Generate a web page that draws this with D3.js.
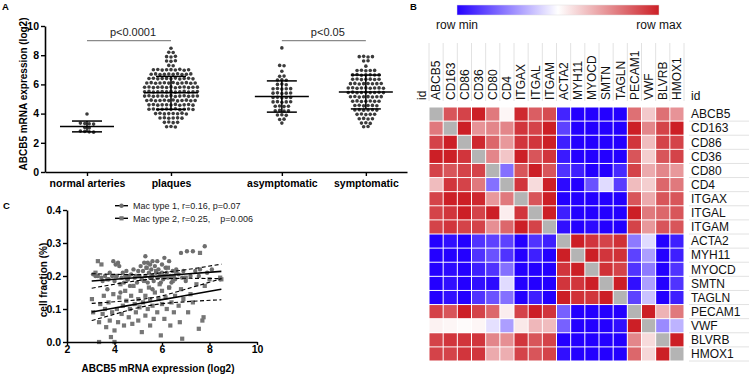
<!DOCTYPE html>
<html><head><meta charset="utf-8">
<script src="https://cdn.jsdelivr.net/npm/d3@7"></script>
<style>
body{margin:0;background:#fff;}
svg{display:block;font-family:"Liberation Sans",Arial,Helvetica,sans-serif;}
</style></head><body>
<svg id="c" width="749" height="375"></svg>
<script>
// ---------------- Panel A data ----------------
const groupsA = ["normal arteries","plaques","asymptomatic","symptomatic"];
const normalArteries = [3.97,3.35,3.32,3.3,3.28,3.05,3.02,2.8,2.78,2.75,2.73];
const plaques = [
 8.48,
 8.2,8.18,
 7.9,7.88,7.92,
 7.6,7.58,7.62,
 7.3,7.28,
 7.0,7.02,6.98,7.0,7.01,6.99,7.03,6.97,7.0,
 6.7,6.72,6.68,6.7,6.71,6.69,6.73,6.67,6.7,6.72,
 6.4,6.42,6.38,6.4,6.41,6.39,6.43,6.37,6.4,6.42,6.38,
 6.1,6.12,6.08,6.1,6.11,6.09,6.13,6.07,6.1,6.12,6.08,6.1,
 5.8,5.82,5.78,5.8,5.81,5.79,5.83,5.77,5.8,5.82,5.78,5.8,5.81,
 5.5,5.52,5.48,5.5,5.51,5.49,5.53,5.47,5.5,5.52,5.48,5.5,5.51,
 5.2,5.22,5.18,5.2,5.21,5.19,5.23,5.17,5.2,5.22,5.18,5.2,5.21,
 4.9,4.92,4.88,4.9,4.91,4.89,4.93,4.87,4.9,4.92,4.88,4.9,
 4.6,4.62,4.58,4.6,4.61,4.59,4.63,4.57,4.6,4.62,4.58,
 4.3,4.32,4.28,4.3,4.31,4.29,4.33,4.27,4.3,4.32,4.28,
 4.0,4.02,3.98,4.0,4.01,3.99,4.03,3.97,
 3.7,3.72,3.68,3.7,3.71,3.69,
 3.4,3.42,3.38,3.4,
 3.1,3.12,3.08
];
const asymptomatic = [
 8.5,
 7.3,7.28,
 6.9,
 6.55,6.57,
 6.3,6.32,6.28,
 6.0,6.02,5.98,
 5.7,5.72,5.68,5.7,5.71,
 5.4,5.42,5.38,5.4,5.41,
 5.1,5.12,5.08,5.1,5.11,
 4.8,4.82,4.78,4.8,4.81,
 4.5,4.52,4.48,4.5,
 4.2,4.22,4.18,4.2,
 3.9,3.92,3.88,
 3.6,3.62,
 3.35
];
const symptomatic = [
 7.9,7.92,7.88,7.9,
 7.6,7.62,
 7.25,
 6.95,6.97,6.93,6.95,6.96,
 6.65,6.67,6.63,6.65,6.66,6.64,6.65,
 6.35,6.37,6.33,6.35,6.36,6.34,6.35,
 6.05,6.07,6.03,6.05,6.06,6.04,6.05,6.06,
 5.75,5.77,5.73,5.75,5.76,5.74,5.75,5.76,5.74,
 5.45,5.47,5.43,5.45,5.46,5.44,5.45,5.46,5.44,
 5.15,5.17,5.13,5.15,5.16,5.14,5.15,5.16,
 4.85,4.87,4.83,4.85,4.86,4.84,4.85,
 4.55,4.57,4.53,4.55,4.56,4.54,
 4.25,4.27,4.23,4.25,4.26,4.24,
 3.95,3.97,3.93,3.95,3.96,
 3.65,3.67,3.63,3.65,
 3.35,3.37,3.33,
 3.1,3.12
];
const groupValues = [normalArteries, plaques, asymptomatic, symptomatic];
const groupMeans = [3.12, 5.42, 5.17, 5.48];
const groupSD    = [0.37, 1.13, 1.07, 1.16];
const yTicksA = [0,2,4,6,8,10];
const comparisons = [ {a:0,b:1,label:"p<0.0001",y:9.0}, {a:2,b:3,label:"p<0.05",y:9.0} ];

// ---------------- Panel B data ----------------
const genes = ["ABCB5","CD163","CD86","CD36","CD80","CD4","ITGAX","ITGAL","ITGAM","ACTA2","MYH11","MYOCD","SMTN","TAGLN","PECAM1","VWF","BLVRB","HMOX1"];
const heat = [
 [null,0.88,0.92,1.0,0.80,0.52,0.98,0.86,0.90,0.07,0,0,0,0,0.82,0.62,0.82,0.74],
 [0.80,null,1.0,0.74,0.77,0.77,0.95,0.92,1.0,0.13,0,0,0,0,1.0,0.77,0.92,1.0],
 [0.92,1.0,null,0.98,0.84,0.73,0.95,0.95,1.0,0.06,0,0,0,0,0.95,0.65,0.92,0.92],
 [1.0,1.0,0.95,null,0.77,0.63,1.0,0.88,0.95,0.05,0,0,0,0,0.88,0.61,0.88,0.92],
 [0.92,0.88,0.92,0.92,null,0.22,0.88,1.0,0.88,0.10,0.06,0,0,0.08,0.92,0.69,0.77,0.73],
 [0.65,0.95,0.92,0.80,0.22,null,0.95,0.58,1.0,0.02,0,0.16,0.43,0.12,0.65,0.61,0.84,0.80],
 [0.92,1.0,1.0,0.98,0.73,0.80,null,0.88,1.0,0,0,0,0,0,0.88,0.69,0.88,0.88],
 [0.92,0.95,1.0,0.92,1.0,0.54,0.95,null,1.0,0.06,0,0,0,0,1.0,0.80,0.84,0.88],
 [0.92,0.95,0.92,0.92,0.75,0.84,1.0,0.92,null,0.03,0,0.02,0,0,0.92,0.73,0.88,0.88],
 [0,0.03,0,0.10,0.13,0.13,0,0.10,0.06,null,1.0,0.95,0.92,0.96,0.24,0.43,0,0.06],
 [0,0,0,0.10,0.16,0.10,0,0.06,0,1.0,null,1.0,0.95,0.96,0.13,0.31,0,0.06],
 [0,0.02,0,0.06,0.10,0.22,0,0,0,0.95,1.0,null,0.96,0.92,0.10,0.24,0,0.10],
 [0,0.03,0,0.03,0.02,0.43,0,0,0,0.95,0.95,1.0,null,1.0,0.03,0.31,0,0.10],
 [0,0.03,0,0.10,0.16,0.22,0,0.06,0,1.0,0.96,0.95,1.0,null,0.13,0.38,0,0.06],
 [0.92,0.88,1.0,0.92,0.84,0.54,0.92,1.0,0.95,0.19,0,0,0,0,null,1.0,0.67,0.80],
 [0.53,0.52,0.51,0.52,0.44,0.31,0.55,0.66,0.65,0.19,0,0,0,0.03,1.0,null,0.27,0.35],
 [0.92,0.95,0.95,0.95,0.77,0.75,0.95,0.88,0.92,0,0,0,0,0,0.77,0.58,null,1.0],
 [0.92,0.92,0.95,0.95,0.69,0.68,0.92,0.88,0.92,0.03,0,0,0,0,0.84,0.59,1.0,null]
];
const colorbarLabels = ["row min","row max"];

// ---------------- Panel C data ----------------
const macType1 = [
 [3.1,0.205],[3.2,0.2],[3.3,0.2],[3.45,0.195],[3.5,0.185],[3.6,0.2],[3.75,0.19],[3.8,0.21],[3.9,0.2],[3.95,0.245],
 [4.0,0.185],[4.05,0.235],[4.1,0.2],[4.15,0.24],[4.2,0.23],[4.3,0.195],[4.35,0.21],[4.4,0.18],[4.45,0.2],[4.5,0.215],
 [4.55,0.19],[4.6,0.2],[4.65,0.17],[4.7,0.205],[4.8,0.22],[4.85,0.195],[4.9,0.2],[4.95,0.18],[5.0,0.215],[5.05,0.2],
 [5.1,0.23],[5.15,0.19],[5.2,0.215],[5.25,0.24],[5.3,0.26],[5.3,0.2],[5.35,0.225],[5.4,0.24],[5.4,0.18],[5.45,0.21],
 [5.5,0.235],[5.5,0.195],[5.55,0.22],[5.6,0.2],[5.6,0.245],[5.65,0.185],[5.7,0.23],[5.75,0.21],[5.8,0.195],[5.8,0.245],
 [5.85,0.22],[5.9,0.2],[5.95,0.18],[6.0,0.235],[6.0,0.21],[6.05,0.19],[6.1,0.255],[6.1,0.2],[6.15,0.225],[6.2,0.21],
 [6.25,0.195],[6.3,0.245],[6.35,0.2],[6.4,0.18],[6.45,0.215],[6.5,0.2],[6.55,0.19],[6.6,0.22],[6.7,0.205],[6.8,0.27],
 [6.85,0.195],[6.9,0.215],[7.0,0.185],[7.05,0.275],[7.2,0.2],[7.3,0.275],[7.4,0.215],[7.55,0.2],[7.6,0.22],[7.8,0.29],
 [7.9,0.21],[8.1,0.22],[8.45,0.19],[4.25,0.15],[5.6,0.16],[3.7,0.16],[6.3,0.165]
];
const macType2 = [
 [3.05,0.13],[3.1,0.09],[3.2,0.21],[3.3,0.245],[3.35,0.0],[3.35,0.06],[3.4,0.115],[3.45,0.235],[3.5,0.085],[3.55,0.14],
 [3.6,0.1],[3.65,0.045],[3.7,0.19],[3.75,0.12],[3.8,0.065],[3.85,0.015],[3.9,0.09],[3.95,0.145],[4.0,0.0],[4.0,0.035],
 [4.05,0.2],[4.1,0.1],[4.15,0.06],[4.2,0.135],[4.25,0.175],[4.3,0.085],[4.35,0.11],[4.4,0.05],[4.45,0.155],[4.5,0.125],
 [4.55,0.19],[4.6,0.075],[4.65,0.1],[4.7,0.14],[4.75,0.055],[4.8,0.17],[4.85,0.115],[4.9,0.09],[4.95,0.2],[5.0,0.13],
 [5.0,0.065],[5.05,0.105],[5.1,0.155],[5.15,0.03],[5.2,0.12],[5.25,0.185],[5.3,0.08],[5.3,0.14],[5.35,0.225],[5.4,0.1],
 [5.45,0.165],[5.5,0.05],[5.5,0.13],[5.55,0.195],[5.6,0.11],[5.65,0.07],[5.7,0.15],[5.75,0.215],[5.8,0.09],[5.85,0.13],
 [5.9,0.175],[5.95,0.02],[6.0,0.115],[6.0,0.155],[6.05,0.195],[6.1,0.07],[6.15,0.135],[6.2,0.1],[6.25,0.225],[6.3,0.165],
 [6.35,0.05],[6.4,0.12],[6.45,0.185],[6.5,0.09],[6.55,0.14],[6.6,0.21],[6.7,0.11],[6.75,0.06],[6.8,0.16],[6.85,0.01],
 [6.9,0.13],[7.0,0.195],[7.1,0.09],[7.2,0.145],[7.3,0.12],[7.45,0.175],[7.55,0.04],[7.6,0.27],[7.7,0.065],[7.75,0.075],
 [7.8,0.17],[8.0,0.19],[8.45,0.195],[8.5,0.19]
];
const bandX = [3.04,4,5,5.5,6,7,8.5];
const fit1 = [0.185,0.190,0.1954,0.198,0.2007,0.206,0.214];
const fit1Upper = [0.207,0.205,0.204,0.206,0.210,0.219,0.236];
const fit1Lower = [0.163,0.175,0.186,0.190,0.192,0.193,0.192];
const fit2 = [0.091,0.103,0.1158,0.122,0.1284,0.141,0.160];
const fit2Upper = [0.117,0.122,0.128,0.133,0.140,0.160,0.192];
const fit2Lower = [0.065,0.084,0.104,0.111,0.116,0.122,0.128];
const legendC = ["Mac type 1, r=0.16, p=0.07","Mac type 2, r=0.25,    p=0.006"];
const yTicksC = [0,0.1,0.2,0.3,0.4];
const xTicksC = [2,4,6,8,10];

// =====================================================
const svg = d3.select("#c");
const bold = "bold";

function styleAxis(g, fs){
  g.select(".domain").attr("stroke","#000").attr("stroke-width",1.6);
  g.selectAll(".tick line").attr("stroke","#000").attr("stroke-width",1.4);
  g.selectAll(".tick text").attr("font-size",fs).attr("font-weight","bold")
   .attr("font-family","Liberation Sans, Arial, sans-serif").attr("fill","#000");
}

// panel letters
[["A",2,10],["B",410,10],["C",3,209]].forEach(([t,x,y])=>{
  svg.append("text").attr("x",x).attr("y",y).text(t).attr("font-size",9.5).attr("font-weight","bold");
});

// ---------------- Panel A ----------------
const slots = [0,1,2.32,3.32];
const xA = d3.scaleLinear().domain([-0.5,3.81]).range([45,407]);
const yA = d3.scaleLinear().domain([0,10]).range([172,26]);

const gA = svg.append("g");
const yAxA = gA.append("g").attr("transform","translate(45,0)")
  .call(d3.axisLeft(yA).tickValues(yTicksA).tickSize(4).tickSizeOuter(0).tickPadding(2));
styleAxis(yAxA,10.5);
const xAxA = gA.append("g").attr("transform","translate(0,172)")
  .call(d3.axisBottom(xA).tickValues(slots).tickFormat((d,i)=>groupsA[i]).tickSize(4).tickSizeOuter(0).tickPadding(4));
styleAxis(xAxA,10.5);
gA.append("text").attr("transform","translate(27,94) rotate(-90)").attr("text-anchor","middle")
  .attr("font-size",10).attr("font-weight","bold").text("ABCB5 mRNA expression (log2)");

// beeswarm
const binStep = 0.3, dx = 4.4;
groupValues.forEach((vals,gi)=>{
  const bins = d3.group(vals, v=>Math.round(v/binStep));
  const pts = [];
  bins.forEach(arr=>{
    const n = arr.length;
    arr.forEach((v,j)=>pts.push({v, off:(j-(n-1)/2)*dx}));
  });
  gA.append("g").selectAll("circle").data(pts).join("circle")
    .attr("cx",d=>xA(slots[gi])+d.off).attr("cy",d=>yA(d.v)).attr("r",1.8).attr("fill","#3b3b3b");
  // mean and SD
  const cx = xA(slots[gi]);
  const m = groupMeans[gi], s = groupSD[gi];
  const lg = gA.append("g").attr("stroke","#000").attr("stroke-width",1.5);
  lg.append("line").attr("x1",cx-27).attr("x2",cx+27).attr("y1",yA(m)).attr("y2",yA(m));
  lg.append("line").attr("x1",cx).attr("x2",cx).attr("y1",yA(m-s)).attr("y2",yA(m+s));
  lg.append("line").attr("x1",cx-15).attr("x2",cx+15).attr("y1",yA(m+s)).attr("y2",yA(m+s));
  lg.append("line").attr("x1",cx-15).attr("x2",cx+15).attr("y1",yA(m-s)).attr("y2",yA(m-s));
});
comparisons.forEach(c=>{
  const x1 = xA(slots[c.a]), x2 = xA(slots[c.b]);
  gA.append("line").attr("x1",x1).attr("x2",x2).attr("y1",yA(c.y)).attr("y2",yA(c.y))
    .attr("stroke","#8a8a8a").attr("stroke-width",1.2);
  gA.append("text").attr("x",(x1+x2)/2+4).attr("y",yA(c.y)-5).attr("text-anchor","middle")
    .attr("font-size",11).attr("fill","#222").text(c.label);
});

// ---------------- Panel B ----------------
const xH = d3.scaleBand().domain(genes).range([429,684]);
const yH = d3.scaleBand().domain(genes).range([107,361]);
const colH = d3.scaleLinear().domain([0,0.5,1]).range(["#2400ff","#ffffff","#cc1f26"]);
const gB = svg.append("g");
const cells = [];
heat.forEach((row,i)=>row.forEach((v,j)=>cells.push({r:genes[i],c:genes[j],v})));
gB.selectAll("rect.cell").data(cells).join("rect").attr("class","cell")
  .attr("x",d=>xH(d.c)+0.5).attr("y",d=>yH(d.r)+0.5)
  .attr("width",xH.bandwidth()-1).attr("height",yH.bandwidth()-1)
  .attr("fill",d=>d.v==null?"#b4b4b4":colH(d.v));

// column label separators
gB.selectAll("line.cs").data(genes.concat(["_end"])).join("line").attr("class","cs")
  .attr("x1",(d,i)=>429+i*xH.step()).attr("x2",(d,i)=>429+i*xH.step())
  .attr("y1",43).attr("y2",101).attr("stroke","#e2e2e2").attr("stroke-width",1);
gB.selectAll("text.cl").data(genes).join("text").attr("class","cl")
  .attr("transform",d=>`translate(${xH(d)+xH.bandwidth()/2+4.3},100) rotate(-90)`)
  .attr("font-size",12).attr("fill","#111").text(d=>d);
gB.append("text").attr("transform","translate(426,100) rotate(-90)").attr("font-size",12).attr("fill","#111").text("id");

// row labels
gB.selectAll("line.rs").data(genes).join("line").attr("class","rs")
  .attr("x1",689).attr("x2",749).attr("y1",d=>yH(d)+yH.bandwidth()).attr("y2",d=>yH(d)+yH.bandwidth())
  .attr("stroke","#e2e2e2").attr("stroke-width",1);
gB.selectAll("text.rl").data(genes).join("text").attr("class","rl")
  .attr("x",691).attr("y",d=>yH(d)+yH.bandwidth()/2+4.3)
  .attr("font-size",12).attr("fill","#111").text(d=>d);
gB.append("text").attr("x",691).attr("y",100).attr("font-size",12).attr("fill","#111").text("id");

// colorbar
const defs = svg.append("defs");
const grad = defs.append("linearGradient").attr("id","cbar");
[[0,"#2400ff"],[0.5,"#ffffff"],[1,"#cc1f26"]].forEach(([o,c])=>grad.append("stop").attr("offset",o).attr("stop-color",c));
const cbX = d3.scaleLinear().domain([0,1]).range([457,659]);
gB.append("rect").attr("x",cbX(0)).attr("y",5).attr("width",cbX(1)-cbX(0)).attr("height",10)
  .attr("fill","url(#cbar)").attr("stroke","#ddd").attr("stroke-width",0.5);
gB.selectAll("text.cb").data(colorbarLabels).join("text").attr("class","cb")
  .attr("x",(d,i)=>cbX(i)).attr("y",29).attr("text-anchor","middle").attr("font-size",12).attr("fill","#111").text(d=>d);

// ---------------- Panel C ----------------
const xC = d3.scaleLinear().domain([2,10]).range([67,257]);
const yC = d3.scaleLinear().domain([0,0.4]).range([342,210]);
const gC = svg.append("g");
const ptColor = "#6e6e6e";
gC.append("g").selectAll("rect").data(macType2).join("rect")
  .attr("x",d=>xC(d[0])-2.1).attr("y",d=>yC(d[1])-2.1).attr("width",4.2).attr("height",4.2).attr("fill","#767676");
gC.append("g").selectAll("circle").data(macType1).join("circle")
  .attr("cx",d=>xC(d[0])).attr("cy",d=>yC(d[1])).attr("r",2.2).attr("fill",ptColor);

const lineGen = d3.line().x((d,i)=>xC(bandX[i])).y(d=>yC(d)).curve(d3.curveMonotoneX);
[[fit1,false],[fit1Upper,true],[fit1Lower,true],[fit2,false],[fit2Upper,true],[fit2Lower,true]].forEach(([arr,dash])=>{
  gC.append("path").attr("d",lineGen(arr)).attr("fill","none").attr("stroke","#000")
    .attr("stroke-width",dash?1.1:1.6).attr("stroke-dasharray",dash?"4,2.5":null);
});

const yAxC = gC.append("g").attr("transform","translate(67,0)")
  .call(d3.axisLeft(yC).tickValues(yTicksC).tickFormat(d3.format(".1f")).tickSize(4).tickSizeOuter(0).tickPadding(2));
styleAxis(yAxC,10.5);
const xAxC = gC.append("g").attr("transform","translate(0,342)")
  .call(d3.axisBottom(xC).tickValues(xTicksC).tickSize(3).tickSizeOuter(0).tickPadding(1));
styleAxis(xAxC,10.5);
gC.append("text").attr("transform","translate(47,280) rotate(-90)").attr("text-anchor","middle")
  .attr("font-size",10).attr("font-weight","bold").text("cell fraction (%)");
gC.append("text").attr("x",158).attr("y",372).attr("text-anchor","middle")
  .attr("font-size",10).attr("font-weight","bold").text("ABCB5 mRNA expression (log2)");

// legend
legendC.forEach((t,i)=>{
  const y = 205.7 + i*12.6;
  gC.append("line").attr("x1",115).attr("x2",128).attr("y1",y).attr("y2",y).attr("stroke","#000").attr("stroke-width",1.4);
  if(i===0) gC.append("circle").attr("cx",121.5).attr("cy",y).attr("r",2.2).attr("fill",ptColor);
  else gC.append("rect").attr("x",119.4).attr("y",y-2.1).attr("width",4.2).attr("height",4.2).attr("fill","#767676");
  gC.append("text").attr("x",133).attr("y",y+3.2).attr("font-size",9).attr("fill","#222")
    .style("white-space","pre").text(t);
});
</script></body></html>
